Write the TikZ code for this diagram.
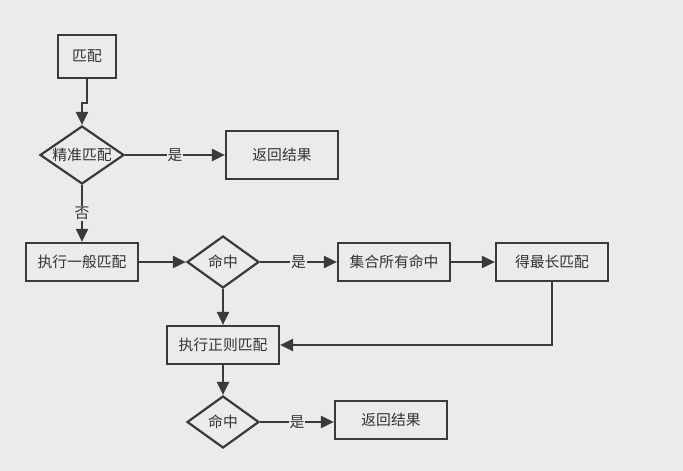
\documentclass[tikz,border=0pt]{standalone}
\usepackage{fontspec}
\newfontfamily\cjk{Noto Sans CJK SC}
\usetikzlibrary{arrows.meta,shapes.geometric}
\definecolor{bg}{HTML}{EBEBEB}
\definecolor{ln}{HTML}{3A3A3A}
\definecolor{tx}{HTML}{333333}
\begin{document}
\begin{tikzpicture}[x=1pt,y=-1pt,
  box/.style={draw=ln,line width=2.2pt,minimum width=112pt,minimum height=38pt,inner sep=0pt,font=\cjk\fontsize{14.8}{17}\selectfont,text=tx},
  dia/.style={draw=ln,line width=2.2pt,shape=diamond,inner sep=0pt,minimum width=72pt,minimum height=52pt,aspect=1.4,font=\cjk\fontsize{14.8}{17}\selectfont,text=tx},
  arr/.style={draw=ln,line width=2.2pt,-{Triangle[length=13pt,width=12pt]}},
  lbl/.style={fill=bg,inner sep=1pt,font=\cjk\fontsize{14.8}{17}\selectfont,text=tx}]
\fill[bg] (0,0) rectangle (683,471);
\useasboundingbox (0,0) rectangle (683,471);
\node[box,minimum width=58pt,minimum height=43pt] (m) at (87,56.5) {匹配};
\node[dia,minimum width=84pt,minimum height=58pt] (d1) at (82,155) {精准匹配};
\node[box,minimum height=48pt] (r1) at (282,155) {返回结果};
\node[box] (g) at (82,262) {执行一般匹配};
\node[dia] (h1) at (223,262) {命中};
\node[box] (s) at (394,262) {集合所有命中};
\node[box] (l) at (552,262) {得最长匹配};
\node[box] (z) at (223,345) {执行正则匹配};
\node[dia] (h2) at (223,422) {命中};
\node[box] (r2) at (391,420) {返回结果};
\draw[arr] (m.south) -- ++(0,24) -| (d1.north);
\draw[arr] (d1.east) -- node[lbl]{是} (r1.west);
\draw[arr] (d1.south) -- node[lbl]{否} (g.north);
\draw[arr] (g.east) -- (h1.west);
\draw[arr] (h1.east) -- node[lbl]{是} (s.west);
\draw[arr] (s.east) -- (l.west);
\draw[arr] (l.south) |- (z.east);
\draw[arr] (h1.south) -- (z.north);
\draw[arr] (z.south) -- (h2.north);
\draw[arr] (h2.east) -- node[lbl]{是} (h2.east -| r2.west);
\end{tikzpicture}
\end{document}
